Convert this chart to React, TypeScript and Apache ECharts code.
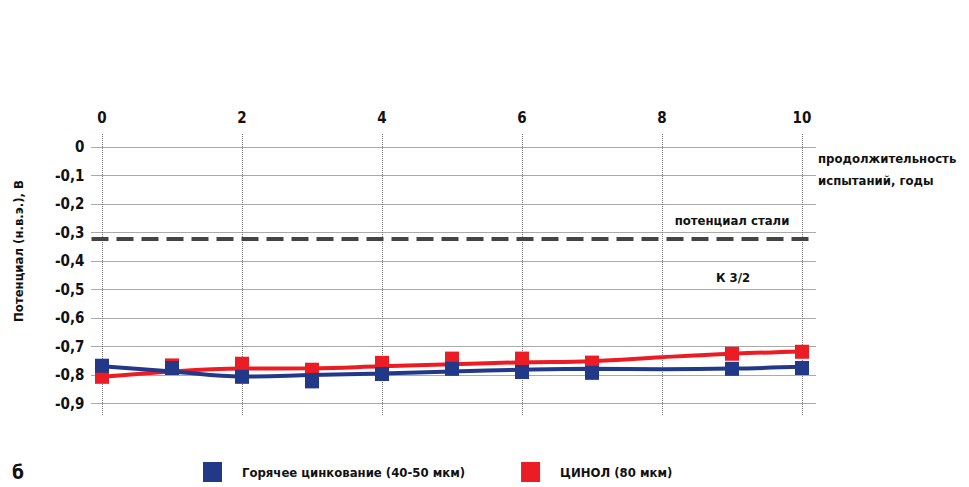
import React, { useEffect, useRef } from "react";
import * as echarts from "echarts";

const markerYears = [0, 1, 2, 3, 4, 5, 6, 7, 9, 10];
const hotDipPoints = [-0.767, -0.775, -0.806, -0.822, -0.796, -0.778, -0.789, -0.792, -0.778, -0.775];
const zinolPoints = [-0.806, -0.766, -0.76, -0.781, -0.757, -0.742, -0.742, -0.756, -0.725, -0.718];

const trendYears = [0, 1, 2, 3, 4, 5, 6, 7, 8, 9, 10];
const hotDipTrend = [-0.769, -0.787, -0.805, -0.8, -0.794, -0.787, -0.781, -0.778, -0.779, -0.777, -0.771];
const zinolTrend = [-0.806, -0.787, -0.777, -0.776, -0.769, -0.762, -0.755, -0.751, -0.737, -0.725, -0.717];

const xTicks = [0, 2, 4, 6, 8, 10];
const yTicks = [0, -0.1, -0.2, -0.3, -0.4, -0.5, -0.6, -0.7, -0.8, -0.9];
const steelPotential = -0.32;

const hotDipName = "Горячее цинкование (40-50 мкм)";
const zinolName = "ЦИНОЛ (80 мкм)";

const FONT = '"Liberation Sans Narrow", "DejaVu Sans Condensed", sans-serif';
const BLUE = "#22398a";
const RED = "#ec1c24";

export default function App() {
  const ref = useRef<HTMLDivElement>(null);
  useEffect(() => {
    if (!ref.current) return;
    const chart = echarts.init(ref.current, null, { renderer: "svg" });
    const pair = (xs: number[], ys: number[]) => xs.map((x, i) => [x, ys[i]]);
    const txt = { fontFamily: FONT, fontWeight: "bold", fontSize: 13, fill: "#111" };
    chart.setOption({
      animation: false,
      backgroundColor: "#fff",
      grid: { left: 91.5, right: 153, top: 133, bottom: 72 },
      xAxis: {
        type: "value",
        position: "top",
        min: -0.15,
        max: 10.2,
        axisLine: { show: false },
        axisTick: { show: false },
        splitLine: { show: false },
        axisLabel: {
          customValues: xTicks,
          margin: 8,
          fontFamily: FONT,
          fontWeight: "bold",
          fontSize: 15,
          color: "#111",
        },
      },
      yAxis: {
        type: "value",
        min: -0.94,
        max: 0.05,
        axisLine: { show: false },
        axisTick: { show: false },
        splitLine: { show: false },
        axisLabel: {
          customValues: yTicks,
          margin: 7,
          fontFamily: FONT,
          fontWeight: "bold",
          fontSize: 15,
          color: "#111",
          formatter: (v: number) => (Math.abs(v) < 1e-9 ? "0" : v.toFixed(1).replace(".", ",")),
        },
      },
      legend: {
        data: [hotDipName, zinolName],
        left: 198,
        top: 457,
        icon: "rect",
        itemWidth: 19,
        itemHeight: 20,
        itemGap: 56,
        itemStyle: { opacity: 1 },
        textStyle: {
          fontFamily: FONT,
          fontWeight: "bold",
          fontSize: 13,
          color: "#111",
          padding: [0, 0, 0, 15],
        },
      },
      series: [
        {
          type: "line",
          name: "grid",
          data: [],
          silent: true,
          markLine: {
            silent: true,
            symbol: "none",
            label: { show: false },
            lineStyle: { color: "#555", width: 1, type: "dotted" },
            data: yTicks.map((v) => ({ yAxis: v })),
          },
        },
        {
          type: "line",
          name: "grid2",
          data: [],
          silent: true,
          markLine: {
            silent: true,
            symbol: "none",
            label: { show: false },
            lineStyle: { color: "#777", width: 1, type: "dotted" },
            data: xTicks.map((v) => ({ xAxis: v })),
          },
        },
        {
          type: "line",
          name: "steel",
          data: [],
          silent: true,
          z: 5,
          markLine: {
            silent: true,
            symbol: "none",
            label: { show: false },
            lineStyle: { color: "#444", width: 4, type: [17, 8] },
            data: [{ yAxis: steelPotential }],
          },
        },
        {
          type: "line",
          name: "zinolTrend",
          data: pair(trendYears, zinolTrend),
          smooth: 0.4,
          showSymbol: false,
          lineStyle: { color: RED, width: 4 },
          z: 6,
        },
        {
          type: "scatter",
          name: zinolName,
          data: pair(markerYears, zinolPoints),
          symbol: "rect",
          symbolSize: 14,
          itemStyle: { color: RED, opacity: 1 },
          z: 7,
        },
        {
          type: "line",
          name: "hotDipTrend",
          data: pair(trendYears, hotDipTrend),
          smooth: 0.4,
          showSymbol: false,
          lineStyle: { color: BLUE, width: 4 },
          z: 8,
        },
        {
          type: "scatter",
          name: hotDipName,
          data: pair(markerYears, hotDipPoints),
          symbol: "rect",
          symbolSize: 14,
          itemStyle: { color: BLUE, opacity: 1 },
          z: 9,
        },
      ],
      graphic: [
        {
          type: "text",
          x: 18,
          y: 251,
          rotation: Math.PI / 2,
          style: { ...txt, text: "Потенциал (н.в.э.), В", align: "center", verticalAlign: "middle" },
        },
        {
          type: "text",
          x: 818,
          y: 158,
          style: { ...txt, text: "продолжительность", align: "left", verticalAlign: "middle" },
        },
        {
          type: "text",
          x: 818,
          y: 180,
          style: { ...txt, text: "испытаний, годы", align: "left", verticalAlign: "middle" },
        },
        {
          type: "text",
          x: 732,
          y: 220,
          style: { ...txt, text: "потенциал стали", align: "center", verticalAlign: "middle" },
        },
        {
          type: "text",
          x: 733,
          y: 277,
          style: { ...txt, text: "К 3/2", align: "center", verticalAlign: "middle" },
        },
        {
          type: "text",
          x: 12,
          y: 472,
          style: { ...txt, fontSize: 19, text: "б", align: "left", verticalAlign: "middle" },
        },
      ],
    });
    return () => chart.dispose();
  }, []);
  return (
    <div
      ref={ref}
      style={{ position: "absolute", left: 0, top: 0, width: 969, height: 487 }}
    />
  );
}
